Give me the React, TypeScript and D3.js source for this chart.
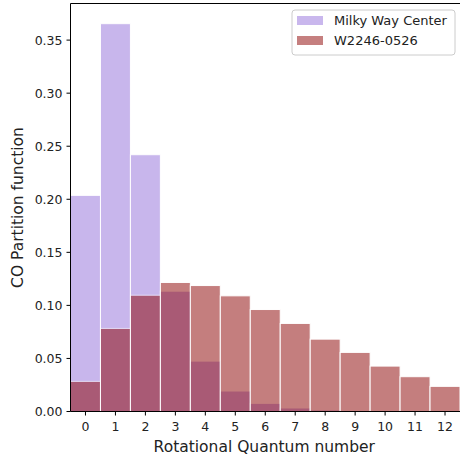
import React from "react";
import * as d3 from "d3";

// rotational level J = 0..12
const levels = [0, 1, 2, 3, 4, 5, 6, 7, 8, 9, 10, 11, 12];
const milkyWay = [0.2037, 0.3655, 0.242, 0.1134, 0.0475, 0.0193, 0.0077, 0.0033, 0.0014, 0.0005, 0.0002, 0.0001, 0];
const w2246 = [0.0284, 0.0783, 0.1096, 0.1216, 0.1187, 0.109, 0.0961, 0.083, 0.0682, 0.0557, 0.0428, 0.0328, 0.0237];
const yTicks = [0, 0.05, 0.1, 0.15, 0.2, 0.25, 0.3, 0.35];
const seriesNames = ["Milky Way Center", "W2246-0526"];

const W = 460;
const H = 459;
const margin = { top: 3.5, right: 0, bottom: 47.5, left: 70.5 };
const font = "DejaVu Sans, sans-serif";

const purple = "#9370DB";
const red = "#8B0000";

export default function App() {
  const plotW = W - margin.left - margin.right;
  const plotH = H - margin.top - margin.bottom;

  const x = d3.scaleLinear().domain([-0.5, 12.5]).range([0, plotW]);
  const y = d3.scaleLinear().domain([0, 0.3845]).range([plotH, 0]);

  const bars = (vals: number[], color: string) =>
    vals.map((v, i) => (
      <rect
        key={i}
        x={x(levels[i] - 0.5)}
        y={y(v)}
        width={x(levels[i] + 0.5) - x(levels[i] - 0.5)}
        height={plotH - y(v)}
        fill={color}
        stroke="white"
        strokeWidth={1}
      />
    ));

  return (
    <div style={{ position: "absolute", left: 0, top: 0 }}>
      <svg width={W} height={H} style={{ display: "block" }} fontFamily={font}>
        <rect width={W} height={H} fill="white" />
        <g transform={`translate(${margin.left},${margin.top})`}>
          <g opacity={0.5}>{bars(milkyWay, purple)}</g>
          <g opacity={0.5}>{bars(w2246, red)}</g>

          {/* spines (right one falls outside the image) */}
          <line x1={0} x2={0} y1={0} y2={plotH} stroke="black" strokeWidth={1} />
          <line x1={0} x2={plotW} y1={plotH} y2={plotH} stroke="black" strokeWidth={1} />
          <line x1={0} x2={plotW} y1={0} y2={0} stroke="black" strokeWidth={1} />

          {yTicks.map((t) => (
            <g key={t} transform={`translate(0,${y(t)})`}>
              <line x1={-4} x2={0} stroke="black" />
              <text x={-8} dy="0.36em" textAnchor="end" fontSize={12.5} fill="#222">
                {t.toFixed(2)}
              </text>
            </g>
          ))}

          {levels.map((t) => (
            <g key={t} transform={`translate(${x(t)},${plotH})`}>
              <line y1={0} y2={4} stroke="black" />
              <text y={19.5} textAnchor="middle" fontSize={12.5} fill="#222">
                {t}
              </text>
            </g>
          ))}

          <text x={plotW / 2 - 1} y={plotH + 40} textAnchor="middle" fontSize={15.5} fill="#222">
            Rotational Quantum number
          </text>
          <text
            transform={`translate(${-48},${plotH / 2}) rotate(-90)`}
            textAnchor="middle"
            fontSize={15.5}
            fill="#222"
          >
            CO Partition function
          </text>

          {/* legend */}
          <g transform="translate(221.5,6.5)">
            <rect width={163} height={45} rx={3} fill="white" fillOpacity={0.8} stroke="#ccc" />
            {seriesNames.map((name, i) => (
              <g key={name} transform={`translate(0,${i * 20})`}>
                <rect x={5} y={6} width={26} height={9} fill={i === 0 ? purple : red} opacity={0.5} />
                <text x={42} y={15} fontSize={13} fill="#222">
                  {name}
                </text>
              </g>
            ))}
          </g>
        </g>
      </svg>
    </div>
  );
}
